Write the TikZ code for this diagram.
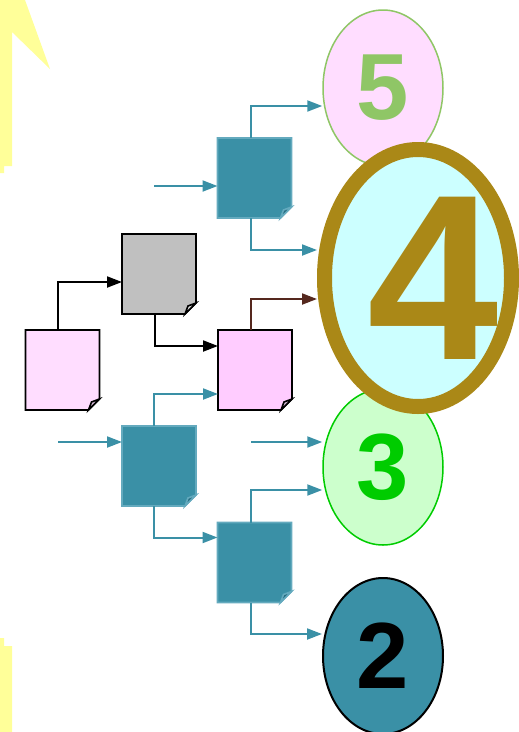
\documentclass[tikz,border=0pt]{standalone}
\usepackage{fontspec}
\usetikzlibrary{arrows.meta, shapes.geometric}
\newfontfamily\numfont{Liberation Sans}
\definecolor{tealfill}{RGB}{58,144,166}
\definecolor{tealedge}{RGB}{100,170,190}
\definecolor{tealfold}{RGB}{40,110,130}
\definecolor{pinklight}{RGB}{255,221,255}
\definecolor{pinkmid}{RGB}{255,204,255}
\definecolor{pinkfold}{RGB}{215,185,215}
\definecolor{silver}{RGB}{192,192,192}
\definecolor{silverfold}{RGB}{225,225,225}
\definecolor{leafgreen}{RGB}{143,198,102}
\definecolor{brightgreen}{RGB}{0,204,0}
\definecolor{mint}{RGB}{204,255,204}
\definecolor{icecyan}{RGB}{204,255,255}
\definecolor{olivegold}{RGB}{170,136,23}
\definecolor{darkbrown}{RGB}{85,40,30}
\definecolor{paleyellow}{RGB}{255,255,153}

% page with a turned-down corner: name, centre, fill, edge, fold
\newcommand{\pagedoc}[5]{%
  \node[docbox] (#1) at (#2) {};
  \filldraw[docline,fill=#3,draw=#4] (#1.north west) -- (#1.north east)
    -- ([yshift=11pt]#1.south east) -- ([xshift=-11pt]#1.south east)
    -- (#1.south west) -- cycle;
  \filldraw[docline,fill=#5,draw=#4] ([xshift=-11pt]#1.south east)
    -- ([xshift=-8pt,yshift=8pt]#1.south east) -- ([yshift=11pt]#1.south east) -- cycle;
}

\begin{document}
\begin{tikzpicture}[x=1pt,y=-1pt,>={Triangle[length=15pt,width=11pt]},
    docbox/.style={rectangle,minimum width=74pt,minimum height=80pt,inner sep=0pt,outer sep=0pt},
    docline/.style={line width=1.6pt,line join=miter},
    oval/.style={ellipse,minimum width=120pt,minimum height=156pt,inner sep=0pt,line width=1.5pt,
      font=\numfont\bfseries\fontsize{94}{94}\selectfont},
    flow/.style={->,line width=2pt,draw=tealfill},
    blackflow/.style={->,line width=2pt,draw=black}]
  \useasboundingbox (0,0) rectangle (519,732);

  % yellow flashes at the left edge
  \fill[paleyellow] (0,0) -- (25,0) -- (50,69) -- (12,32) -- (12,166) -- (4,166)
    -- (4,173) -- (0,173) -- cycle;
  \fill[paleyellow] (0,638) -- (4,638) -- (4,646) -- (12,646) -- (12,732) -- (0,732) -- cycle;

  % ovals
  \node[oval,fill=pinklight,draw=leafgreen,text=leafgreen] (five) at (383,88) {5};
  \node[oval,fill=mint,draw=brightgreen,text=brightgreen] (three) at (383,467) {3};
  \node[oval,fill=tealfill,draw=black,line width=2pt,text=black] (two) at (383,656) {2};
  \node[ellipse,minimum width=187pt,minimum height=257pt,line width=15pt,
    fill=icecyan,draw=olivegold] (four) at (418,278) {};
  \node[text=olivegold,inner sep=0pt,font=\numfont\bfseries\fontsize{236}{236}\selectfont]
    (fourlabel) at (433,278) {4};

  % pages
  \pagedoc{pinkA}{62.5,370}{pinklight}{black}{pinkfold}
  \pagedoc{gray}{159,274}{silver}{black}{silverfold}
  \pagedoc{pinkB}{255,370}{pinkmid}{black}{pinkfold}
  \pagedoc{tealA}{254.5,178}{tealfill}{tealedge}{tealfold}
  \pagedoc{tealB}{159,466}{tealfill}{tealedge}{tealfold}
  \pagedoc{tealC}{254.5,562.5}{tealfill}{tealedge}{tealfold}

  \coordinate (inA) at (154,186);
  \coordinate (inB) at (58,442);
  \coordinate (inC) at (251,442);

  % connectors
  \draw[blackflow] ([xshift=-4.5pt]pinkA.north) |- ([yshift=-8pt]gray.west);
  \draw[blackflow] ([xshift=-4pt]gray.south) |- ([yshift=24pt]pinkB.west);
  \draw[->,line width=2pt,draw=darkbrown] ([xshift=-4pt]pinkB.north) |- ([yshift=-21pt]four.west);

  \draw[flow] (inA) -- ([yshift=-8pt]tealA.west);
  \draw[flow] ([xshift=-3.5pt]tealA.north) |- ([yshift=-18pt]five.west);
  \draw[flow] ([xshift=-3.5pt]tealA.south) |- ([yshift=28pt]four.west);

  \draw[flow] (inB) -- ([yshift=24pt]tealB.west);
  \draw[flow] ([xshift=-5pt]tealB.north) |- ([yshift=-24pt]pinkB.west);
  \draw[flow] ([xshift=-5pt]tealB.south) |- ([yshift=25pt]tealC.west);

  \draw[flow] (inC) -- ([yshift=25pt]three.west);
  \draw[flow] ([xshift=-3.5pt]tealC.north) |- ([yshift=-23pt]three.west);
  \draw[flow] ([xshift=-3.5pt]tealC.south) |- ([yshift=22pt]two.west);
\end{tikzpicture}
\end{document}
